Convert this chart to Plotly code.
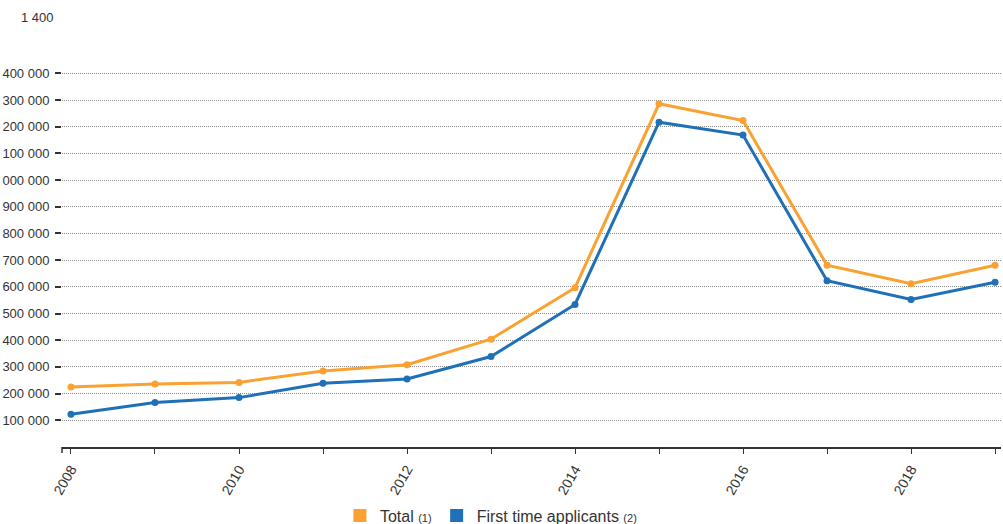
import plotly.graph_objects as go

# Asylum applicants per year
years = [2008, 2009, 2010, 2011, 2012, 2013, 2014, 2015, 2016, 2017, 2018, 2019]
total = [225000, 236000, 242000, 285000, 308000, 404000, 597000, 1286000, 1223000, 681000, 612000, 681000]
first_time = [123000, 167000, 185000, 239000, 255000, 339000, 534000, 1217000, 1169000, 623000, 553000, 617000]

y_tickvals = [100000, 200000, 300000, 400000, 500000, 600000, 700000,
              800000, 900000, 1000000, 1100000, 1200000, 1300000, 1400000]
y_ticktext = ["100 000", "200 000", "300 000", "400 000", "500 000", "600 000", "700 000",
              "800 000", "900 000", "1 000 000", "1 100 000", "1 200 000", "1 300 000", "1 400 000"]
x_ticktext = ["2008", "", "2010", "", "2012", "", "2014", "", "2016", "", "2018", ""]

ORANGE = "#f9a231"
BLUE = "#1f70b7"
TEXT = "#333333"
FONT = "Liberation Sans, Arial, sans-serif"

fig = go.Figure()

for name, vals, color in [("Total", total, ORANGE), ("First time applicants", first_time, BLUE)]:
    fig.add_trace(go.Scatter(
        x=years, y=vals, mode="lines+markers", name=name, showlegend=False,
        line=dict(color=color, width=3),
        marker=dict(color=color, size=7),
    ))

# legend entries shown as square swatches
legend_names = ["Total <span style='font-size:11px'>(1)</span>",
                "First time applicants <span style='font-size:11px'>(2)</span>"]
for label, color in zip(legend_names, [ORANGE, BLUE]):
    fig.add_trace(go.Scatter(
        x=[None], y=[None], mode="markers", name=label,
        marker=dict(symbol="square", color=color, size=13),
    ))

fig.update_layout(
    width=1003, height=524,
    margin=dict(l=62, r=2, t=60, b=77, autoexpand=False),
    paper_bgcolor="white", plot_bgcolor="white",
    font=dict(family=FONT, color=TEXT, size=13),
    showlegend=True,
    legend=dict(
        orientation="h", x=0.296, xanchor="left", y=-0.177, yanchor="middle",
        font=dict(size=16, color=TEXT), itemwidth=30, tracegroupgap=0,
        bgcolor="rgba(0,0,0,0)",
    ),
    xaxis=dict(
        range=[2007.893, 2019.071],
        tickvals=years, ticktext=x_ticktext, tickangle=-60,
        ticks="outside", ticklen=5, tickwidth=1.2, tickcolor=TEXT,
        showline=True, linecolor=TEXT, linewidth=1.5,
        showgrid=False, zeroline=False, automargin=False,
        tickfont=dict(size=14, color=TEXT), ticklabelstandoff=2,
    ),
    yaxis=dict(
        range=[0, 1450000],
        tickvals=y_tickvals, ticktext=y_ticktext,
        ticks="outside", ticklen=6, tickwidth=1.5, tickcolor=TEXT,
        showline=False, zeroline=False, automargin=False,
        showgrid=True, gridcolor="#8c8c8c", griddash="1px,1px", gridwidth=1,
        tickfont=dict(size=13, color=TEXT), ticklabelstandoff=3,
    ),
    shapes=[dict(
        type="line", xref="paper", yref="paper", x0=0, x1=0,
        ysizemode="pixel", yanchor=0, y0=0, y1=-6,
        line=dict(color=TEXT, width=1.5),
    )],
    annotations=[dict(
        text="1 400", xref="paper", yref="paper",
        x=-0.046, y=1.111, xanchor="left", yanchor="middle",
        showarrow=False, font=dict(size=13, color=TEXT),
    )],
)

fig.write_html("out.html")
